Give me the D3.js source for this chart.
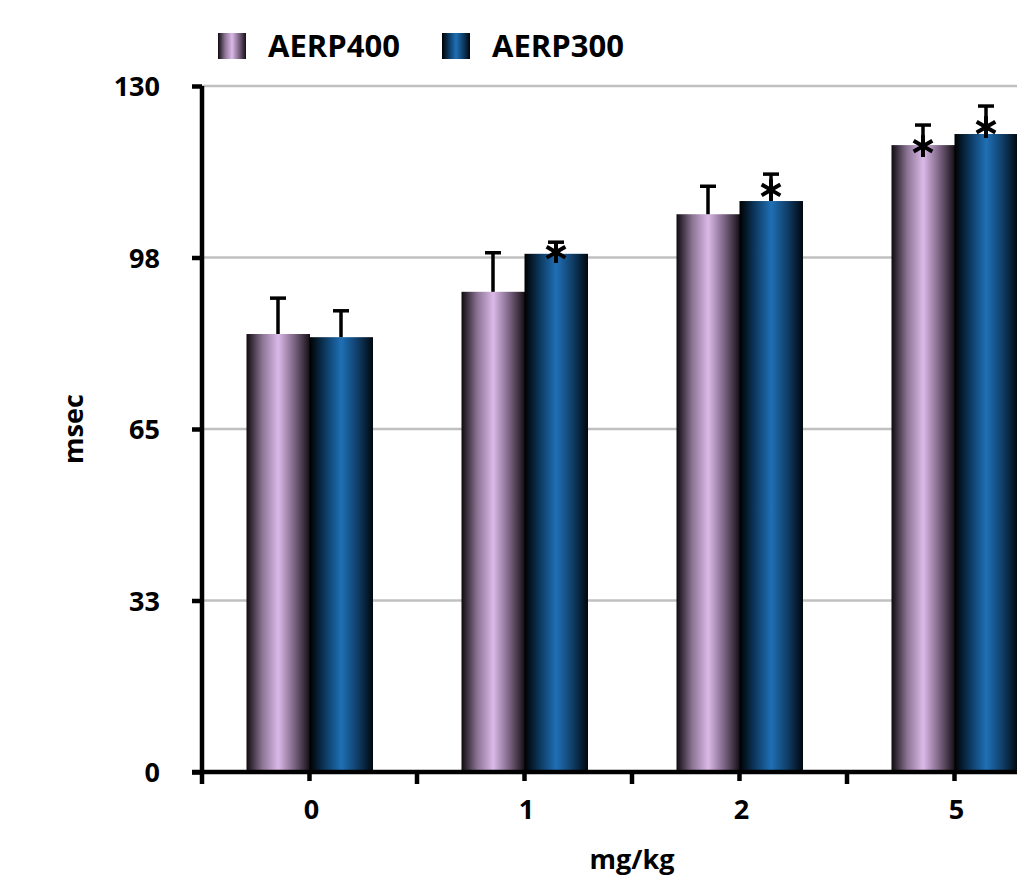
<!DOCTYPE html>
<meta charset="utf-8">
<script src="https://d3js.org/d3.v7.min.js"></script>
<style>
  body { margin: 0; background: #fff; }
  text { font-family: "Open Sans", sans-serif; font-weight: bold; fill: #000; }
</style>
<div id="my_dataviz"></div>
<script>

// data
var doses = ["0", "1", "2", "5"];
var seriesNames = ["AERP400", "AERP300"];
var aerp400 = [83.0, 91.0, 105.7, 118.8];
var aerp400Err = [6.8, 7.4, 5.3, 3.8];
var aerp300 = [82.4, 98.2, 108.2, 120.9];
var aerp300Err = [5.0, 2.2, 5.1, 5.3];
// where an asterisk sits (msec), null = no mark
var aerp400Star = [null, null, null, 118.6];
var aerp300Star = [null, 98.5, 110.3, 122.2];
var yTicks = [0, 32.5, 65, 97.5, 130];
var yTickLabels = ["0", "33", "65", "98", "130"];

var width = 1017, height = 883;
var margin = {top: 86, left: 202, bottom: 111};

var svg = d3.select("#my_dataviz")
  .append("svg")
    .attr("width", width)
    .attr("height", height);

// gradients for the cylinder look
var defs = svg.append("defs");
function grad(id, stops) {
  var g = defs.append("linearGradient").attr("id", id)
    .attr("x1", "0%").attr("x2", "100%").attr("y1", "0%").attr("y2", "0%");
  stops.forEach(function(s) {
    g.append("stop").attr("offset", s[0]).attr("stop-color", s[1]);
  });
}
grad("g400", [["0%", "#0e0a0e"], ["25%", "#8c7494"], ["50%", "#dbb9e8"], ["75%", "#7d6585"], ["100%", "#140e14"]]);
grad("g300", [["0%", "#000000"], ["25%", "#0d3a62"], ["50%", "#1f70b6"], ["75%", "#103f69"], ["100%", "#00070e"]]);
var fills = ["url(#g400)", "url(#g300)"];

var x = d3.scaleBand()
  .domain(doses)
  .range([margin.left, margin.left + 4 * 215]);

var xSub = d3.scaleBand()
  .domain(seriesNames)
  .range([44.5, 170.5]);

var y = d3.scaleLinear()
  .domain([0, 130])
  .range([height - margin.bottom, margin.top]);

// gridlines
svg.append("g")
  .selectAll("line")
  .data(yTicks.slice(1))
  .enter().append("line")
    .attr("x1", margin.left)
    .attr("x2", width)
    .attr("y1", function(d) { return y(d); })
    .attr("y2", function(d) { return y(d); })
    .attr("stroke", "#c0c0c0")
    .attr("stroke-width", 2.5);

// build rows for bars
var rows = [];
doses.forEach(function(d, i) {
  rows.push({dose: d, s: "AERP400", v: aerp400[i], e: aerp400Err[i], star: aerp400Star[i], k: 0});
  rows.push({dose: d, s: "AERP300", v: aerp300[i], e: aerp300Err[i], star: aerp300Star[i], k: 1});
});

var bars = svg.append("g");
bars.selectAll("rect")
  .data(rows)
  .enter().append("rect")
    .attr("x", function(d) { return x(d.dose) + xSub(d.s); })
    .attr("width", xSub.bandwidth() + 0.5)
    .attr("y", function(d) { return y(d.v); })
    .attr("height", function(d) { return y(0) - y(d.v); })
    .attr("fill", function(d) { return fills[d.k]; });

// error bars (upper only)
function cx(d) { return x(d.dose) + xSub(d.s) + xSub.bandwidth() / 2; }
var err = svg.append("g").attr("stroke", "#000");
err.selectAll("line.stem")
  .data(rows)
  .enter().append("line")
    .attr("class", "stem")
    .attr("x1", cx).attr("x2", cx)
    .attr("y1", function(d) { return y(d.v); })
    .attr("y2", function(d) { return y(d.v + d.e); })
    .attr("stroke-width", 3.5);
err.selectAll("line.cap")
  .data(rows)
  .enter().append("line")
    .attr("class", "cap")
    .attr("x1", function(d) { return cx(d) - 8; })
    .attr("x2", function(d) { return cx(d) + 8; })
    .attr("y1", function(d) { return y(d.v + d.e); })
    .attr("y2", function(d) { return y(d.v + d.e); })
    .attr("stroke-width", 3.5);

// asterisks
svg.append("g")
  .selectAll("path")
  .data(rows.filter(function(d) { return d.star != null; }))
  .enter().append("path")
    .attr("transform", function(d) { return "translate(" + cx(d) + "," + y(d.star) + ")"; })
    .attr("d", d3.symbol().type(d3.symbolAsterisk).size(330))
    .attr("fill", "none")
    .attr("stroke", "#000")
    .attr("stroke-width", 4);

// y axis
var yAxis = svg.append("g")
  .attr("transform", "translate(" + margin.left + ",0)")
  .call(d3.axisLeft(y)
    .tickValues(yTicks)
    .tickFormat(function(d, i) { return yTickLabels[i]; })
    .tickSize(10)
    .tickPadding(32));
yAxis.select(".domain").attr("stroke-width", 4.5).attr("d", "M0," + y(0) + "V" + y(130));
yAxis.selectAll(".tick line").attr("stroke-width", 4.5);
yAxis.selectAll("text").style("font-size", "27px").style("font-family", "Open Sans").attr("dy", "0.36em");

// x axis: ticks at group edges and centres
var xTickVals = [];
doses.forEach(function(d) { xTickVals.push(x(d), x(d) + x.bandwidth() / 2); });
var xa = svg.append("g");
xa.append("line")
  .attr("x1", margin.left - 10).attr("x2", width)
  .attr("y1", y(0)).attr("y2", y(0))
  .attr("stroke", "#000").attr("stroke-width", 4.5);
xa.selectAll("line.t")
  .data(xTickVals)
  .enter().append("line")
    .attr("class", "t")
    .attr("x1", function(d) { return d; }).attr("x2", function(d) { return d; })
    .attr("y1", y(0)).attr("y2", function(d, i) { return y(0) + (i % 2 ? 9 : 12); })
    .attr("stroke", "#000").attr("stroke-width", 4.5);
xa.selectAll("text")
  .data(doses)
  .enter().append("text")
    .attr("x", function(d) { return x(d) + x.bandwidth() / 2 + 2; })
    .attr("y", 819)
    .attr("text-anchor", "middle")
    .style("font-size", "27px")
    .text(function(d) { return d; });

// axis titles
svg.append("text")
  .attr("x", margin.left + 2 * 215)
  .attr("y", 869)
  .attr("text-anchor", "middle")
  .style("font-size", "27px")
  .text("mg/kg");
svg.append("text")
  .attr("transform", "translate(83," + (y(65)) + ") rotate(-90)")
  .attr("text-anchor", "middle")
  .style("font-size", "27px")
  .text("msec");

// legend
var legend = svg.append("g");
var legX = [218, 442];
seriesNames.forEach(function(name, i) {
  legend.append("rect")
    .attr("x", legX[i]).attr("y", 33)
    .attr("width", 28).attr("height", 26)
    .attr("fill", fills[i]);
  legend.append("text")
    .attr("x", legX[i] + 50).attr("y", 57)
    .style("font-size", "31px")
    .text(name);
});

</script>
